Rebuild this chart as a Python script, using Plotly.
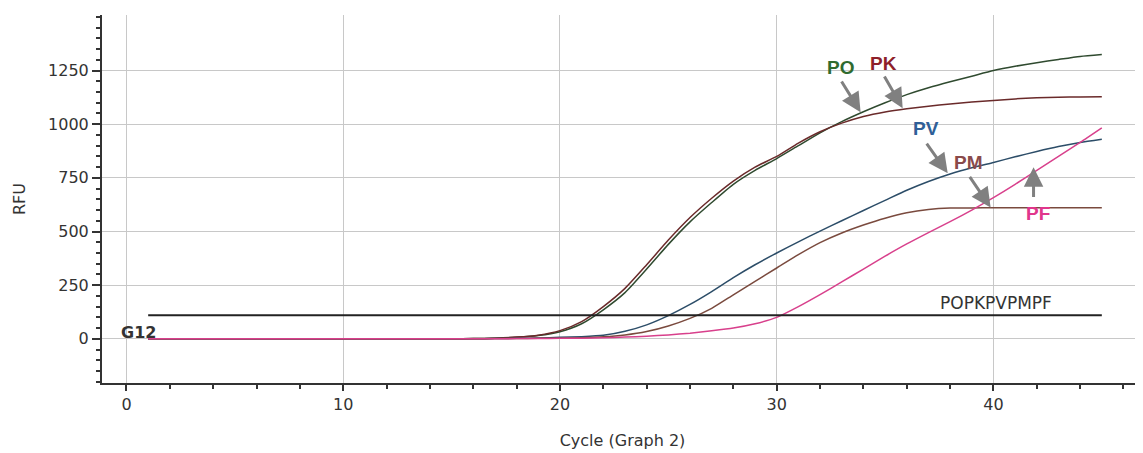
import plotly.graph_objects as go

cycles = list(range(1, 46))

po = [0]*14 + [0, 1, 3, 7, 15, 33, 70, 135, 215, 325, 440, 545, 635, 720, 785, 840, 900, 960, 1012, 1058,
               1100, 1138, 1170, 1198, 1224, 1250, 1270, 1287, 1302, 1316, 1325]
pk = [0]*14 + [0, 1, 3, 8, 17, 38, 80, 150, 235, 345, 460, 565, 655, 735, 800, 850, 912, 965, 1005, 1036,
               1057, 1072, 1084, 1094, 1103, 1111, 1118, 1123, 1126, 1127, 1128]
pv = [0]*14 + [0, 0, 1, 2, 4, 7, 10, 16, 35, 65, 108, 160, 220, 285, 345, 400, 452, 502, 550, 598,
               645, 692, 733, 768, 797, 822, 848, 873, 896, 915, 930]
pm = [0]*14 + [0, 0, 1, 1, 2, 3, 5, 9, 18, 34, 60, 95, 142, 205, 268, 330, 392, 448, 493, 530,
               562, 587, 602, 609, 610, 611, 611, 611, 611, 611, 611]
pf = [0]*14 + [0, 0, 0, 1, 1, 2, 3, 5, 8, 12, 18, 26, 37, 50, 70, 100, 150, 206, 265, 325,
               385, 442, 495, 546, 600, 658, 720, 785, 850, 915, 983]

threshold_x = [1, 45]
threshold_y = [110, 110]

series = [
    ("PO", po, "#2f4a2f"),
    ("PK", pk, "#6a2a2a"),
    ("PV", pv, "#2c4d68"),
    ("PM", pm, "#7a4a3e"),
    ("PF", pf, "#d8408c"),
]

labels = ["PO", "PK", "PV", "PM", "PF"]
label_colors = ["#2f6b2f", "#8e1f2a", "#2f5f98", "#8a4a4a", "#e0368c"]
label_pos_x = [32.95, 34.93, 36.87, 38.86, 42.04]
label_pos_y = [1266, 1285, 981, 822, 584]
arrow_tail_x = [32.95, 34.93, 36.87, 38.86, 41.85]
arrow_tail_y = [1206, 1229, 916, 762, 654]
arrow_tip_x = [33.87, 35.81, 37.89, 39.87, 41.85]
arrow_tip_y = [1056, 1075, 771, 612, 799]

fig = go.Figure()

for name, vals, col in series:
    fig.add_trace(go.Scatter(x=cycles, y=vals, mode="lines", name=name,
                             line=dict(color=col, width=1.5, shape="spline", smoothing=0.6)))

fig.add_trace(go.Scatter(x=threshold_x, y=threshold_y, mode="lines",
                         line=dict(color="#222222", width=2), name="threshold"))

font_family = "DejaVu Sans, Verdana, sans-serif"

for i, lab in enumerate(labels):
    fig.add_annotation(x=arrow_tip_x[i], y=arrow_tip_y[i], ax=arrow_tail_x[i], ay=arrow_tail_y[i],
                       axref="x", ayref="y", xref="x", yref="y", text="", showarrow=True,
                       arrowhead=2, arrowsize=1.3, arrowwidth=3, arrowcolor="#808080")
    fig.add_annotation(x=label_pos_x[i], y=label_pos_y[i], text="<b>" + lab + "</b>", showarrow=False,
                       font=dict(family="Liberation Sans, Arial, sans-serif", size=19, color=label_colors[i]))

fig.add_annotation(x=40.1, y=168, text="POPKPVPMPF", showarrow=False,
                   font=dict(family=font_family, size=17, color="#333333"))
fig.add_annotation(x=0.55, y=30, text="<b>G12</b>", showarrow=False,
                   font=dict(family=font_family, size=16, color="#333333"))

# page body has an 8px margin: figure placed so the plot area lands where the reference has it
fig.update_layout(
    width=1135, height=445,
    margin=dict(l=94, r=0, t=7, b=70),
    paper_bgcolor="white", plot_bgcolor="white",
    showlegend=False,
    font=dict(family=font_family, size=16, color="#333333"),
)
fig.update_xaxes(range=[-1.13, 46.9], tickvals=[0, 10, 20, 30, 40], automargin=False,
                 showgrid=True, gridcolor="#c8c8c8", gridwidth=1, zeroline=False,
                 showline=True, linecolor="#333333", linewidth=2,
                 ticks="outside", ticklen=6, tickcolor="#333333", tickwidth=1.5,
                 minor=dict(dtick=2, tick0=0, ticks="outside", ticklen=4, tickcolor="#333333", showgrid=False),
                 title=dict(text="Cycle (Graph 2)", font=dict(size=16), standoff=22))
fig.update_yaxes(range=[-206, 1509], tickvals=[0, 250, 500, 750, 1000, 1250], automargin=False,
                 showgrid=True, gridcolor="#c8c8c8", gridwidth=1, zeroline=False,
                 showline=True, linecolor="#333333", linewidth=2,
                 ticks="outside", ticklen=8, tickcolor="#333333", tickwidth=1.5,
                 minor=dict(dtick=50, tick0=0, ticks="outside", ticklen=4, tickcolor="#333333", showgrid=False),
                 title=dict(text="RFU", font=dict(size=16), standoff=18))

fig.write_html("out.html")
